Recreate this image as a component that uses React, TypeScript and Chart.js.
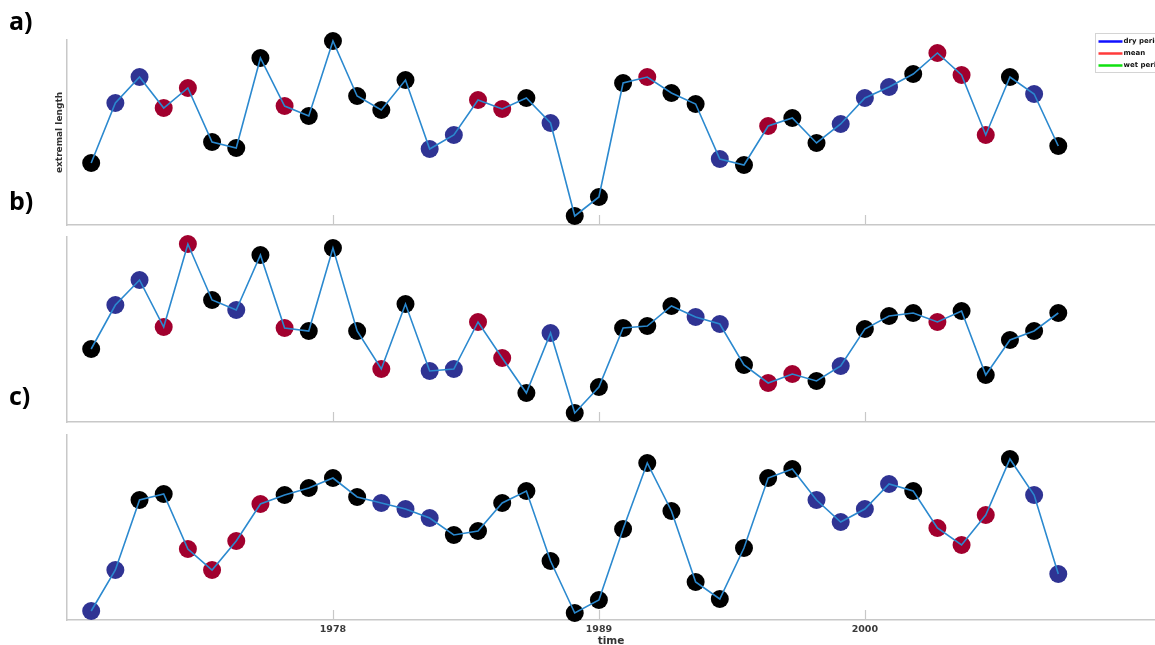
import React, { useEffect, useRef } from 'react';
import { Chart, registerables } from 'chart.js';
Chart.register(...registerables);

const years = [
  1968, 1969, 1970, 1971, 1972, 1973, 1974, 1975, 1976, 1977,
  1978, 1979, 1980, 1981, 1982, 1983, 1984, 1985, 1986, 1987,
  1988, 1989, 1990, 1991, 1992, 1993, 1994, 1995, 1996, 1997,
  1998, 1999, 2000, 2001, 2002, 2003, 2004, 2005, 2006, 2007,
  2008,
];

const valuesA = [
  62, 122, 148, 117, 137, 83, 77, 167, 119, 109,
  184, 129, 115, 145, 76, 90, 125, 116, 127, 102,
  9, 28, 142, 148, 132, 121, 66, 60, 99, 107,
  82, 101, 127, 138, 151, 172, 150, 90, 148, 131,
  79,
];
const classA = [
  'k', 'b', 'b', 'r', 'r', 'k', 'k', 'k', 'r', 'k',
  'k', 'k', 'k', 'k', 'b', 'b', 'r', 'r', 'k', 'b',
  'k', 'k', 'k', 'r', 'k', 'k', 'b', 'k', 'r', 'k',
  'k', 'b', 'b', 'b', 'k', 'r', 'r', 'r', 'k', 'b',
  'k',
];

const valuesB = [
  73, 117, 142, 95, 178, 122, 112, 167, 94, 91,
  174, 91, 53, 118, 51, 53, 100, 64, 29, 89,
  9, 35, 94, 96, 116, 105, 98, 57, 39, 48,
  41, 56, 93, 106, 109, 100, 111, 47, 82, 91,
  109,
];
const classB = [
  'k', 'b', 'b', 'r', 'r', 'k', 'b', 'k', 'r', 'k',
  'k', 'k', 'r', 'k', 'b', 'b', 'r', 'r', 'k', 'b',
  'k', 'k', 'k', 'k', 'k', 'b', 'b', 'k', 'r', 'r',
  'k', 'b', 'k', 'k', 'k', 'r', 'k', 'k', 'k', 'k',
  'k',
];

const valuesC = [
  9, 50, 120, 126, 71, 50, 79, 116, 125, 132,
  142, 123, 117, 111, 102, 85, 89, 117, 129, 59,
  7, 20, 91, 157, 109, 38, 21, 72, 142, 151,
  120, 98, 111, 136, 129, 92, 75, 105, 161, 125,
  46,
];
const classC = [
  'b', 'b', 'k', 'k', 'r', 'r', 'r', 'r', 'k', 'k',
  'k', 'k', 'b', 'b', 'b', 'k', 'k', 'k', 'k', 'k',
  'k', 'k', 'k', 'k', 'k', 'k', 'k', 'k', 'k', 'k',
  'b', 'b', 'b', 'b', 'k', 'r', 'r', 'r', 'k', 'b',
  'b',
];

const tickYears = [1978, 1989, 2000];
const legendLabels = ['dry period', 'mean', 'wet period'];
const legendColors = ['#1010ff', '#ff3b3b', '#10e010'];
const classColors: Record<string, string> = { k: '#000000', b: '#2f3393', r: '#a1002e' };

const AXIS_COLOR = '#c8c8c8';
const LINE_COLOR = '#2b89cf';

const innerTicks = {
  id: 'innerTicks',
  beforeDatasetsDraw(chart: any) {
    const x = chart.scales.x;
    const ctx = chart.ctx;
    const bottom = chart.chartArea.bottom;
    ctx.save();
    ctx.strokeStyle = AXIS_COLOR;
    ctx.lineWidth = 1.2;
    x.ticks.forEach((t: any) => {
      const px = Math.round(x.getPixelForValue(t.value)) + 0.5;
      ctx.beginPath();
      ctx.moveTo(px, bottom);
      ctx.lineTo(px, bottom - 10);
      ctx.stroke();
    });
    ctx.restore();
  },
};

const boxLegend = {
  id: 'boxLegend',
  afterDraw(chart: any, _args: any, opts: any) {
    if (!opts || !opts.show) return;
    const ctx = chart.ctx;
    const left = chart.chartArea.right - 59.5;
    const top = chart.chartArea.top - 6.5;
    ctx.save();
    ctx.fillStyle = '#ffffff';
    ctx.strokeStyle = '#d4d4d4';
    ctx.lineWidth = 1;
    ctx.fillRect(left, top, 90, 39);
    ctx.strokeRect(left, top, 90, 39);
    legendLabels.forEach((lab, i) => {
      const y = top + 8 + i * 12;
      ctx.strokeStyle = legendColors[i];
      ctx.lineWidth = 2.5;
      ctx.beginPath();
      ctx.moveTo(left + 3, y);
      ctx.lineTo(left + 27, y);
      ctx.stroke();
      ctx.fillStyle = '#111111';
      ctx.font = 'bold 7px "DejaVu Sans"';
      ctx.textBaseline = 'middle';
      ctx.textAlign = 'left';
      ctx.fillText(lab, left + 28, y);
    });
    ctx.restore();
  },
};

type PanelProps = {
  values: number[];
  classes: string[];
  top: number;
  height: number;
  padTop: number;
  padBottom: number;
  xHeight: number;
  showYTitle: boolean;
  showX: boolean;
  showLegend: boolean;
};

function Panel(p: PanelProps) {
  const ref = useRef<HTMLCanvasElement>(null);
  useEffect(() => {
    if (!ref.current) return;
    const pts = years.map((y, i) => ({ x: y, y: p.values[i] }));
    const chart = new Chart(ref.current, {
      type: 'line',
      data: {
        datasets: [
          {
            data: pts,
            showLine: false,
            pointRadius: 9,
            pointBorderWidth: 0,
            pointBackgroundColor: p.classes.map((c) => classColors[c]),
            pointBorderColor: p.classes.map((c) => classColors[c]),
            order: 2,
            clip: false as any,
          },
          {
            data: pts,
            borderColor: LINE_COLOR,
            borderWidth: 1.6,
            pointRadius: 0,
            fill: false,
            tension: 0,
            order: 1,
            clip: false as any,
          },
        ],
      },
      options: {
        animation: false,
        responsive: false,
        events: [],
        layout: { autoPadding: false, padding: { left: 50, right: 0, top: p.padTop, bottom: p.padBottom } },
        plugins: {
          legend: { display: false },
          tooltip: { enabled: false },
          boxLegend: { show: p.showLegend },
        } as any,
        scales: {
          x: {
            type: 'linear',
            min: 1967,
            max: 2012,
            afterBuildTicks: (s: any) => {
              s.ticks = tickYears.map((v) => ({ value: v }));
            },
            afterFit: (s: any) => {
              s.height = p.xHeight;
            },
            grid: { display: false, drawTicks: false },
            border: { display: true, color: AXIS_COLOR, width: 1.5 },
            ticks: {
              display: p.showX,
              padding: 4,
              color: '#3a3a3a',
              font: { family: '"DejaVu Sans"', size: 9.5, weight: 'bold' },
              maxRotation: 0,
              callback: (v: any) => String(v),
            },
            title: {
              display: p.showX,
              text: 'time',
              color: '#333333',
              padding: { top: 0, bottom: 0 },
              font: { family: '"DejaVu Sans"', size: 10.5, weight: 'bold' },
            },
          },
          y: {
            type: 'linear',
            min: 0,
            max: 185,
            afterFit: (s: any) => {
              s.width = 17;
            },
            grid: { display: false, drawTicks: false },
            border: { display: true, color: AXIS_COLOR, width: 1.5 },
            ticks: { display: false },
            title: {
              display: p.showYTitle,
              text: 'extremal length',
              color: '#333333',
              font: { family: '"DejaVu Sans"', size: 9, weight: 'bold' },
            },
          },
        },
      },
      plugins: [innerTicks, boxLegend],
    });
    return () => chart.destroy();
  }, []);
  return (
    <div style={{ position: 'absolute', left: 0, top: p.top, width: 1155, height: p.height }}>
      <canvas ref={ref} width={1155} height={p.height} style={{ display: 'block' }} />
    </div>
  );
}

const labelStyle: React.CSSProperties = {
  position: 'absolute',
  left: 9,
  fontFamily: '"Open Sans", sans-serif',
  fontWeight: 700,
  fontSize: 25,
  lineHeight: '25px',
  color: '#000',
};

export default function App() {
  return (
    <div
      style={{
        position: 'fixed',
        left: 0,
        top: 0,
        width: 1155,
        height: 645,
        overflow: 'hidden',
        background: '#ffffff',
      }}
    >
      <Panel values={valuesA} classes={classA} top={0} height={235} padTop={40} padBottom={10} xHeight={0} showYTitle={true} showX={false} showLegend={true} />
      <Panel values={valuesB} classes={classB} top={235} height={197} padTop={2} padBottom={10} xHeight={0} showYTitle={false} showX={false} showLegend={false} />
      <Panel values={valuesC} classes={classC} top={432} height={216} padTop={3} padBottom={0} xHeight={28} showYTitle={false} showX={true} showLegend={false} />
      <div style={{ ...labelStyle, top: 8 }}>a)</div>
      <div style={{ ...labelStyle, top: 188 }}>b)</div>
      <div style={{ ...labelStyle, top: 383 }}>c)</div>
    </div>
  );
}
